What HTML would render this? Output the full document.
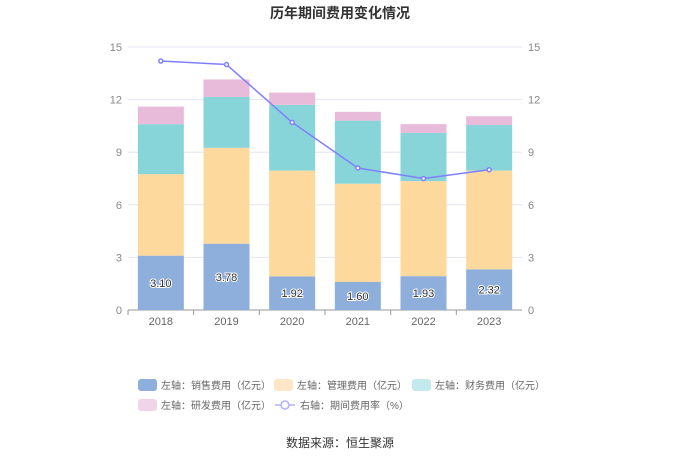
<!DOCTYPE html>
<html><head><meta charset="utf-8"><style>
body{margin:0;background:#fff;font-family:"Liberation Sans","Noto Sans CJK SC",sans-serif;}
svg text{font-family:"Liberation Sans","Noto Sans CJK SC",sans-serif;}
</style></head><body>
<svg id="c" width="680" height="460">
<text x="340" y="18" text-anchor="middle" font-size="14" font-weight="bold" fill="#333">历年期间费用变化情况</text>
<g id="grid"></g><g id="bars"></g><g id="line"></g><g id="legend"></g>
<text x="340" y="447" text-anchor="middle" font-size="12" fill="#333">数据来源：恒生聚源</text>
</svg>
<script>
const years=["2018","2019","2020","2021","2022","2023"];
const sales=[3.10,3.78,1.92,1.60,1.93,2.32];
const mgmt=[4.65,5.47,6.03,5.60,5.42,5.63];
const fin=[2.85,2.90,3.75,3.60,2.75,2.60];
const rd=[1.00,1.00,0.70,0.50,0.50,0.50];
const rate=[14.2,14.0,10.7,8.1,7.5,8.0];
const ticks=[0,3,6,9,12,15];
const ns="http://www.w3.org/2000/svg";
const X0=128,X1=522,Y0=310,Y1=47,MAX=15;
const band=(X1-X0)/years.length;
const xc=i=>X0+band*(i+0.5);
const y=v=>Y0-(Y0-Y1)*v/MAX;
function mk(t,a,p){const e=document.createElementNS(ns,t);for(const k in a)e.setAttribute(k,a[k]);p.appendChild(e);return e;}
const g=document.getElementById('grid');
ticks.forEach(t=>{
 const l=mk('line',{x1:X0,x2:X1,y1:y(t),y2:y(t),stroke:t?'#e6e6f0':'#999'},g);
 
 
 const a=mk('text',{x:X0-6,y:y(t)+4,'text-anchor':'end','font-size':11,fill:'#888'},g);a.textContent=t;
 
 
 const b=mk('text',{x:X1+6,y:y(t)+4,'font-size':11,fill:'#888'},g);b.textContent=t;
 
 
});
years.forEach((yr,i)=>{
 const t=mk('text',{x:xc(i),y:Y0+15,'text-anchor':'middle','font-size':11,fill:'#666'},g);t.textContent=yr;
 
 
 const tk=mk('line',{x1:X0+band*i,x2:X0+band*i,y1:Y0,y2:Y0+5,stroke:'#999'},g);
 
 
});
const series=[[sales,'#8eaedb','sales'],[mgmt,'#fdd99e','mgmt'],[fin,'#88d5d9','finance'],[rd,'#e8bbdb','rd']];
const bg=document.getElementById('bars');const bw=46;
years.forEach((yr,i)=>{
 let acc=0;
 series.forEach(([arr,col,nm])=>{
  const r=mk('rect',{x:xc(i)-bw/2,y:y(acc+arr[i]),width:bw,height:y(acc)-y(acc+arr[i]),fill:col},bg);
  
  
  acc+=arr[i];
 });
 const lb=mk('text',{x:xc(i),y:y(sales[i]/2)+4,'text-anchor':'middle','font-size':11,fill:'#333',stroke:'#fff','stroke-width':2,'paint-order':'stroke'},bg);
 lb.textContent=sales[i].toFixed(2);
 
 
});
const lg=document.getElementById('line');
const p=mk('polyline',{points:rate.map((v,i)=>xc(i)+','+y(v)).join(' '),fill:'none',stroke:'#8080ff','stroke-width':1.5},lg);


rate.forEach((v,i)=>{
 const c=mk('circle',{cx:xc(i),cy:y(v),r:2,fill:'#fff',stroke:'#8080ff','stroke-width':1.5},lg);
 
 
});
const L=document.getElementById('legend');
const items=[[138,385,'#8eaedb','左轴：销售费用（亿元）'],[274,385,'#fde7c6','左轴：管理费用（亿元）'],[412,385,'#c2e9eb','左轴：财务费用（亿元）'],[138,405,'#f0d4e8','左轴：研发费用（亿元）']];
items.forEach(([x0,y0,c,t])=>{
 const r=mk('rect',{x:x0,y:y0-6,width:19,height:12,rx:3,fill:c},L);
 
 
 const tx=mk('text',{x:x0+23,y:y0+4,'font-size':10,fill:'#666'},L);tx.textContent=t;
 
 
});
const ll=mk('line',{x1:275,x2:295,y1:405,y2:405,stroke:'#b0b0ff','stroke-width':1.5},L);


const lc=mk('circle',{cx:285,cy:405,r:4,fill:'#fff',stroke:'#b0b0ff','stroke-width':1.5},L);


const lt=mk('text',{x:300,y:409,'font-size':10,fill:'#666'},L);lt.textContent='右轴：期间费用率（%）';


</script>
</body></html>
